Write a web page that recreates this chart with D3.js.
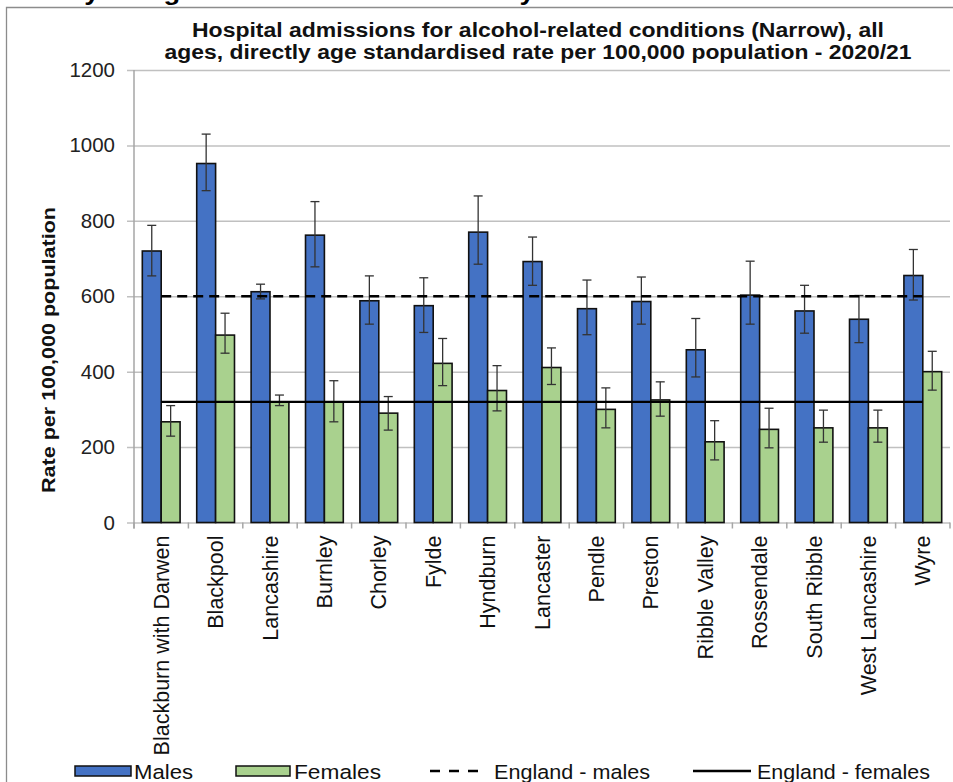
<!DOCTYPE html>
<html>
<head>
<meta charset="utf-8">
<script src="https://cdn.jsdelivr.net/npm/d3@7"></script>
<style>
    body { margin: 0; background: #fff; }
    svg { display: block; font-family: "Liberation Sans", Arial, sans-serif; }
</style>
</head>
<body>
<svg id="chart" width="953" height="782"></svg>
<script>
const svg = d3.select('#chart');

// data
const areas = ["Blackburn with Darwen", "Blackpool", "Lancashire", "Burnley", "Chorley", "Fylde",
    "Hyndburn", "Lancaster", "Pendle", "Preston", "Ribble Valley", "Rossendale", "South Ribble",
    "West Lancashire", "Wyre"];
const males = [720, 952, 612, 762, 588, 575, 770, 692, 567, 586, 458, 603, 561, 539, 655];
const malesLow = [654, 880, 593, 678, 526, 504, 685, 629, 498, 526, 386, 526, 502, 477, 590];
const malesHigh = [788, 1030, 632, 851, 654, 649, 866, 757, 643, 651, 541, 693, 629, 602, 724];
const females = [267, 497, 320, 320, 290, 422, 350, 411, 300, 325, 214, 247, 251, 251, 400];
const femalesLow = [229, 449, 310, 267, 245, 363, 296, 366, 251, 282, 166, 198, 213, 213, 351];
const femalesHigh = [310, 555, 338, 376, 334, 488, 416, 463, 357, 373, 270, 303, 298, 298, 454];
const englandMales = 600;
const englandFemales = 320;
const yTicks = [0, 200, 400, 600, 800, 1000, 1200];

const ctx = {
    LEFT: 134,
    RIGHT: 950,
    TOP: 70,
    BOTTOM: 522.5,
    MALE: "#4472C4",
    FEMALE: "#A9D18E",
    GRID: "#c0c0c0",
};

const x0 = d3.scaleBand().domain(areas).range([ctx.LEFT, ctx.RIGHT]).padding(0);
const x1 = d3.scaleBand().domain(["m", "f"]).range([0, x0.bandwidth()]).paddingInner(0).paddingOuter(0.44);
const y = d3.scaleLinear().domain([0, 1200]).range([ctx.BOTTOM, ctx.TOP]);

// cut off heading at the very top (only the bottom of the letters shows)
svg.append("text")
    .attr("x", -4).attr("y", 0)
    .attr("font-size", 24).attr("font-weight", "bold")
    .attr("textLength", 790).attr("lengthAdjust", "spacingAndGlyphs")
    .text("Locality and gender breakdown \u2013 directly standardised rates");

// frame
svg.append("path")
    .attr("d", "M6.5,800 V7.5 H960")
    .attr("fill", "none").attr("stroke", "#8c8c8c").attr("stroke-width", 1.3);

// title
const titleLines = [
    ["Hospital admissions for alcohol-related conditions (Narrow), all", 37, 692],
    ["ages, directly age standardised rate per 100,000 population - 2020/21", 59, 747]
];
svg.selectAll(".title")
    .data(titleLines)
    .enter().append("text")
    .attr("class", "title")
    .attr("x", 538).attr("y", d => d[1])
    .attr("text-anchor", "middle")
    .attr("font-size", 19.5).attr("font-weight", "bold").attr("fill", "#111")
    .attr("textLength", d => d[2]).attr("lengthAdjust", "spacingAndGlyphs")
    .text(d => d[0]);

// gridlines + y tick labels (axis placed on the right so grid runs past the axis line)
const yAxis = svg.append("g")
    .attr("transform", `translate(${ctx.RIGHT},0)`)
    .call(d3.axisLeft(y).tickValues(yTicks).tickFormat(d3.format("d"))
        .tickSize(ctx.RIGHT - 127).tickPadding(12));
yAxis.select(".domain").remove();
yAxis.selectAll("line").attr("stroke", ctx.GRID).attr("stroke-width", 1.5);
yAxis.selectAll("text")
    .attr("font-size", 20.5).attr("fill", "#222")
    .style("font-family", "'Liberation Sans', Arial, sans-serif");

// y axis line
svg.append("line")
    .attr("x1", ctx.LEFT).attr("x2", ctx.LEFT)
    .attr("y1", ctx.TOP).attr("y2", ctx.BOTTOM + 6)
    .attr("stroke", "#a6a6a6").attr("stroke-width", 1.5);

// category boundary ticks
const bounds = areas.map(a => x0(a)).concat([ctx.RIGHT]);
svg.selectAll(".xtick")
    .data(bounds)
    .enter().append("line")
    .attr("class", "xtick")
    .attr("x1", d => d).attr("x2", d => d)
    .attr("y1", ctx.BOTTOM).attr("y2", ctx.BOTTOM + 6)
    .attr("stroke", "#a6a6a6").attr("stroke-width", 1.5);

// x labels
svg.selectAll(".xlabel")
    .data(areas)
    .enter().append("text")
    .attr("class", "xlabel")
    .attr("transform", d => `translate(${x0(d) + x0.bandwidth() / 2 + 7.5},${ctx.BOTTOM + 13}) rotate(-90)`)
    .attr("text-anchor", "end")
    .attr("font-size", 21.5).attr("fill", "#111")
    .text(d => d);

// y axis title
svg.append("text")
    .attr("transform", "translate(55,350) rotate(-90)")
    .attr("text-anchor", "middle")
    .attr("font-size", 19).attr("font-weight", "bold").attr("fill", "#111")
    .attr("textLength", 286).attr("lengthAdjust", "spacingAndGlyphs")
    .text("Rate per 100,000 population");

// bars
const rows = areas.map((a, i) => ({
    area: a,
    vals: [
        { key: "m", v: males[i], lo: malesLow[i], hi: malesHigh[i], color: ctx.MALE },
        { key: "f", v: females[i], lo: femalesLow[i], hi: femalesHigh[i], color: ctx.FEMALE },
    ]
}));

const groups = svg.selectAll(".grp")
    .data(rows)
    .enter().append("g")
    .attr("class", "grp")
    .attr("transform", d => `translate(${x0(d.area)},0)`);

groups.selectAll("rect")
    .data(d => d.vals)
    .enter().append("rect")
    .attr("x", d => x1(d.key))
    .attr("y", d => y(d.v))
    .attr("width", x1.bandwidth())
    .attr("height", d => y(0) - y(d.v))
    .attr("fill", d => d.color)
    .attr("stroke", "#111").attr("stroke-width", 1.6);

// England reference lines
const lx1 = x0(areas[0]) + x0.bandwidth() / 2;
const lx2 = x0(areas[areas.length - 1]) + x0.bandwidth() / 2;
svg.append("line")
    .attr("x1", lx1).attr("x2", lx2)
    .attr("y1", y(englandMales)).attr("y2", y(englandMales))
    .attr("stroke", "#000").attr("stroke-width", 2.6).attr("stroke-dasharray", "10,6");
svg.append("line")
    .attr("x1", lx1).attr("x2", lx2)
    .attr("y1", y(englandFemales)).attr("y2", y(englandFemales))
    .attr("stroke", "#000").attr("stroke-width", 2.4);

// error bars
const err = groups.selectAll(".err")
    .data(d => d.vals)
    .enter().append("g")
    .attr("class", "err")
    .attr("stroke", "#333").attr("stroke-width", 1.3);
err.append("line")
    .attr("x1", d => x1(d.key) + x1.bandwidth() / 2).attr("x2", d => x1(d.key) + x1.bandwidth() / 2)
    .attr("y1", d => y(d.lo)).attr("y2", d => y(d.hi));
err.append("line")
    .attr("x1", d => x1(d.key) + x1.bandwidth() / 2 - 4.5).attr("x2", d => x1(d.key) + x1.bandwidth() / 2 + 4.5)
    .attr("y1", d => y(d.hi)).attr("y2", d => y(d.hi));
err.append("line")
    .attr("x1", d => x1(d.key) + x1.bandwidth() / 2 - 4.5).attr("x2", d => x1(d.key) + x1.bandwidth() / 2 + 4.5)
    .attr("y1", d => y(d.lo)).attr("y2", d => y(d.lo));

// legend
const legendY = 771;
const legend = svg.append("g");
legend.append("rect").attr("x", 75).attr("y", legendY - 5).attr("width", 56).attr("height", 10)
    .attr("fill", ctx.MALE).attr("stroke", "#111").attr("stroke-width", 1.5);
legend.append("rect").attr("x", 236).attr("y", legendY - 5).attr("width", 54).attr("height", 10)
    .attr("fill", ctx.FEMALE).attr("stroke", "#111").attr("stroke-width", 1.5);
legend.append("line").attr("x1", 430).attr("x2", 486).attr("y1", legendY).attr("y2", legendY)
    .attr("stroke", "#000").attr("stroke-width", 2.4).attr("stroke-dasharray", "10,9");
legend.append("line").attr("x1", 693).attr("x2", 751).attr("y1", legendY).attr("y2", legendY)
    .attr("stroke", "#000").attr("stroke-width", 2.4);

const legendText = [["Males", 134, 59], ["Females", 294, 87], ["England - males", 494, 156], ["England - females", 757, 173]];
legend.selectAll("text")
    .data(legendText)
    .enter().append("text")
    .attr("x", d => d[1]).attr("y", legendY + 8)
    .attr("font-size", 20.5).attr("fill", "#111")
    .attr("textLength", d => d[2]).attr("lengthAdjust", "spacingAndGlyphs")
    .text(d => d[0]);
</script>
</body>
</html>
